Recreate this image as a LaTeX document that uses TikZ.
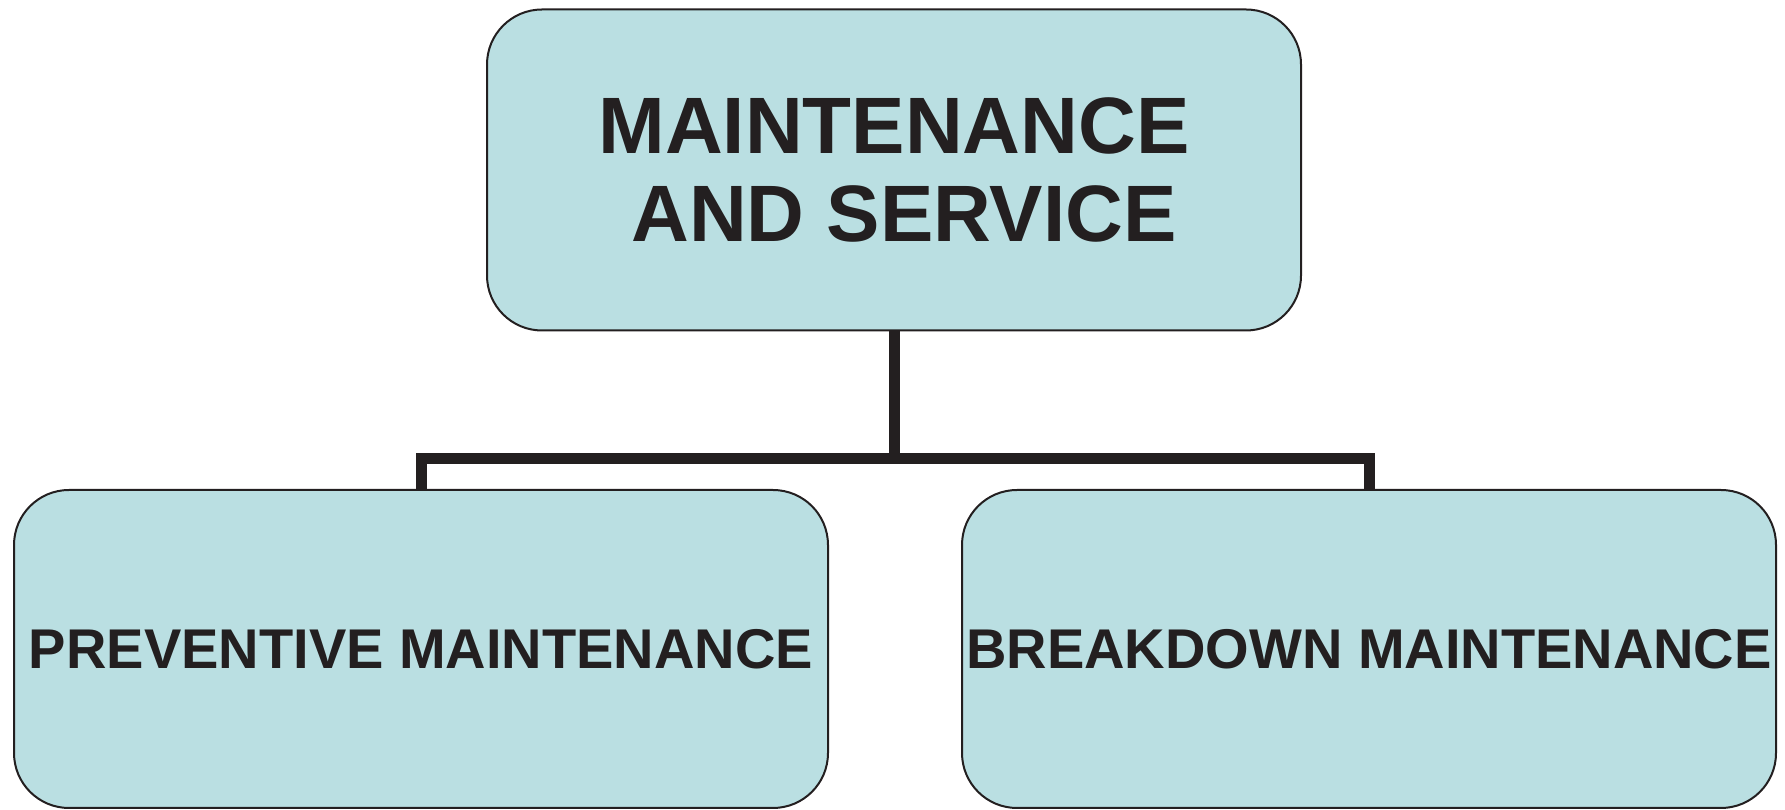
\documentclass[tikz,border=0pt]{standalone}
\usepackage{fontspec}
\setmainfont{Liberation Sans}
\usetikzlibrary{positioning}
\definecolor{boxfill}{RGB}{186,223,226}
\definecolor{ink}{RGB}{35,31,32}
\tikzset{
    box/.style={rectangle,rounded corners=55pt,draw=ink,line width=2pt,fill=boxfill,text=ink,
        minimum width=814pt,inner sep=0pt,align=center},
    topbox/.style={box,minimum height=321pt,font=\fontsize{80}{88}\selectfont\bfseries},
    subbox/.style={box,minimum height=318pt,font=\fontsize{56}{62}\selectfont\bfseries},
    conn/.style={draw=ink,line width=11pt},
}
\begin{document}
\begin{tikzpicture}[x=1pt,y=1pt]
\useasboundingbox (0,0) rectangle (1785,810);
\node[topbox] (ms) at (894,640) {MAINTENANCE\\\hspace*{20pt}AND SERVICE};
\node[subbox] (pm) at (421,161) {PREVENTIVE MAINTENANCE};
\node[subbox] (bm) at (1369,161) {BREAKDOWN MAINTENANCE};
\draw[conn] (ms.south) -- ++(0,-127) coordinate (junc);
\draw[conn] (pm.north) |- (junc) -| (bm.north);
\end{tikzpicture}
\end{document}
